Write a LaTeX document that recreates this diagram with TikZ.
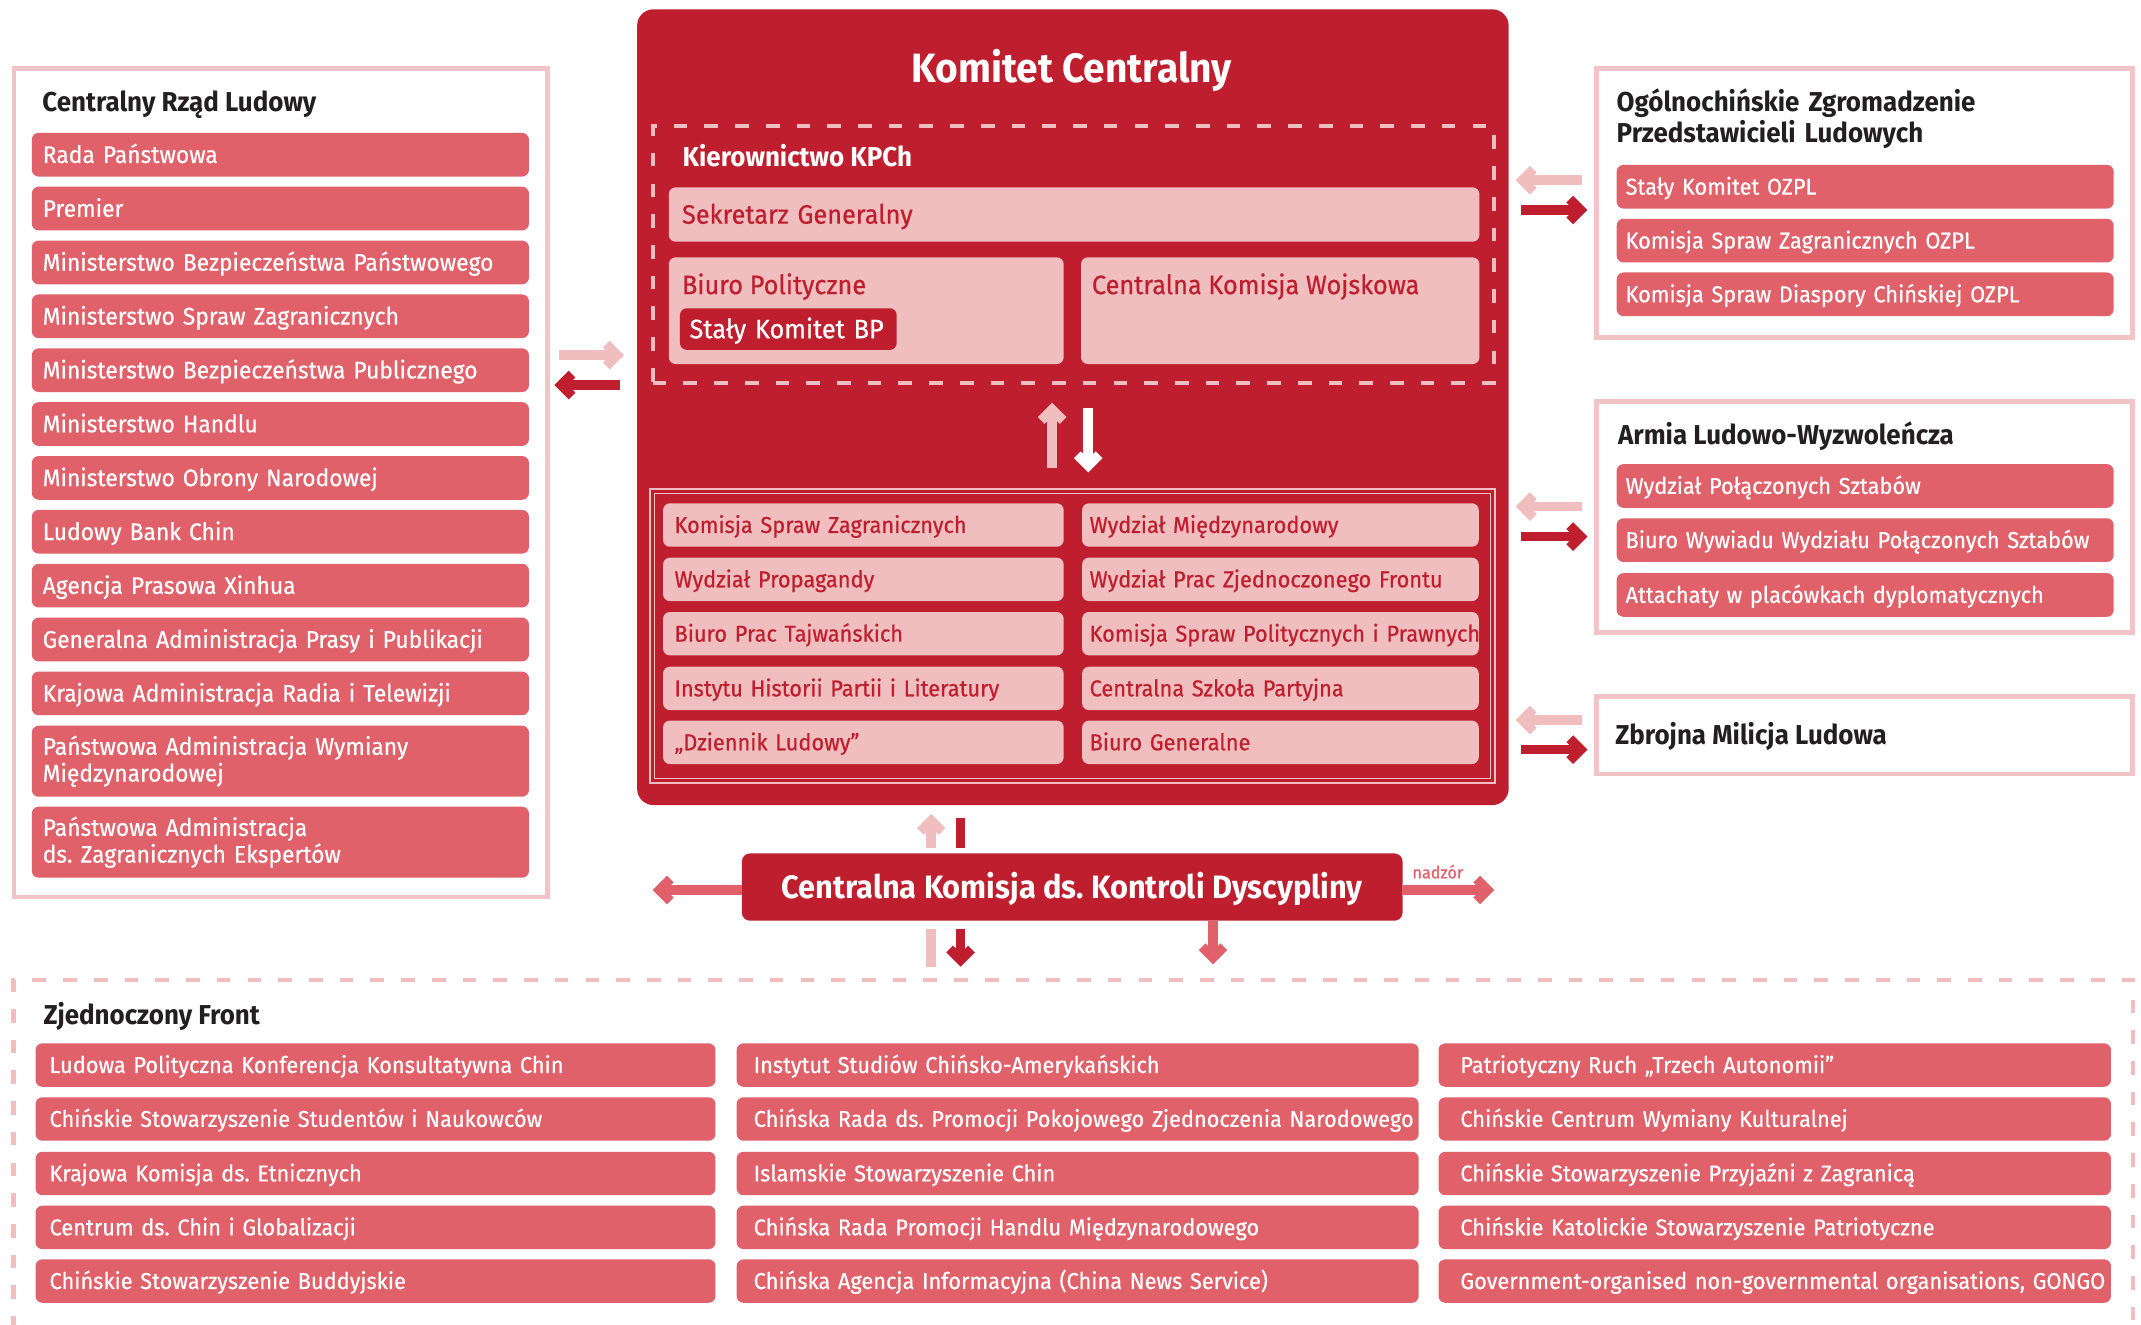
\documentclass[tikz,border=0pt]{standalone}
\usepackage{fontspec}
\setmainfont{Fira Sans}[FakeStretch=0.95]
\newfontfamily\cellface{Fira Sans}[FakeStretch=0.95, FakeBold=0.6]
\usepackage{tikz}
\usetikzlibrary{arrows.meta}
\frenchspacing

\definecolor{kcred}{RGB}{190,30,45}
\definecolor{cellred}{RGB}{224,97,105}
\definecolor{cellpink}{RGB}{240,190,191}
\definecolor{panelpink}{RGB}{242,196,197}
\definecolor{headblack}{RGB}{35,31,32}

\newcommand{\cellfont}{\cellface\fontsize{16.8}{19.6}\selectfont}
\newcommand{\govfont}{\cellface\fontsize{17.6}{19.6}\selectfont}
\newcommand{\topfont}{\cellface\fontsize{19.5}{22}\selectfont}
\newcommand{\headfont}{\bfseries\fontsize{20}{22}\selectfont}

\begin{document}
\begin{tikzpicture}
[every node/.style={inner sep=0pt, outer sep=0pt},
 panel/.style={rectangle, draw=panelpink, line width=3.5pt},
 kcbox/.style={rectangle, rounded corners=12pt, fill=kcred},
 dashframe/.style={rectangle, draw=cellpink, line width=3.2pt, dash pattern=on 10pt off 12.5pt},
 lowframe/.style={rectangle, draw=cellpink, line width=1pt, double=kcred, double distance=2.4pt},
 pinkbox/.style={rectangle, rounded corners=5pt, fill=cellpink},
 nowrap/.style={execute at begin node={\hbox\bgroup}, execute at end node={\egroup}},
 oneline/.style={nowrap, text height=15.6pt, text depth=4pt},
 redcell/.style={rectangle, rounded corners=5pt, fill=cellred, text=white, font=\cellfont, align=left, anchor=west},
 pinkcell/.style={rectangle, rounded corners=5pt, fill=cellpink, text=kcred, font=\cellfont, align=left, anchor=west},
 gov/.style={redcell, oneline, font=\govfont, text height=16.1pt, minimum height=32pt, inner xsep=8pt, text width=348.1pt},
 gov2/.style={redcell, font=\govfont, minimum height=52pt, inner xsep=8pt, text width=348.1pt},
 side/.style={redcell, oneline, minimum height=32pt, inner xsep=6.5pt, text width=351pt},
 lowl/.style={pinkcell, oneline, minimum height=31.8pt, inner xsep=8.4pt, text width=276.6pt},
 lowr/.style={pinkcell, oneline, minimum height=31.8pt, inner xsep=5.5pt, text width=279.5pt},
 fronta/.style={redcell, oneline, minimum height=31.8pt, inner xsep=10.3pt, text width=477.4pt},
 frontb/.style={redcell, oneline, minimum height=31.8pt, inner xsep=12.5pt, text width=474.5pt},
 frontc/.style={redcell, oneline, minimum height=31.8pt, inner xsep=16pt, text width=460.5pt},
 heading/.style={font=\headfont, text=headblack, anchor=west, text height=17.8pt, text depth=4pt},
 toplabel/.style={font=\topfont, text=kcred, anchor=west, text height=17.4pt, text depth=4pt},
 flow/.style={line width=7pt, -{Straight Barb[length=8pt, width=16pt]}},
 paleflow/.style={flow, draw=cellpink},
 darkflow/.style={flow, draw=kcred},
 midflow/.style={flow, draw=cellred},
 whiteflow/.style={flow, draw=white},
 paleline/.style={line width=7pt, draw=cellpink},
 darkline/.style={line width=7pt, draw=kcred}]
\useasboundingbox (0pt,0pt) rectangle (1568pt,-970pt);

% frames
\node (1) [panel, minimum width=390.8pt, minimum height=607pt] at (205.6pt, -353.5pt) {};
\node (2) [kcbox, minimum width=638.3pt, minimum height=582.8pt] at (785.75pt, -298.2pt) {};
\node (3) [dashframe, minimum width=616pt, minimum height=188.4pt] at (786pt, -186.5pt) {};
\node (4) [lowframe, minimum width=615.6pt, minimum height=212.1pt] at (785.5pt, -465.75pt) {};
\node (5) [panel, minimum width=392.7pt, minimum height=197pt] at (1365.35pt, -148.5pt) {};
\node (6) [panel, minimum width=392.7pt, minimum height=169.2pt] at (1365.35pt, -378.6pt) {};
\node (7) [panel, minimum width=392.7pt, minimum height=56.8pt] at (1365.35pt, -538.4pt) {};
\node (8) [kcbox, rounded corners=6pt, minimum width=483.9pt, minimum height=49.3pt, text=white, font=\bfseries\fontsize{23.7}{26}\selectfont, text height=20.3pt, text depth=4pt] at (785.25pt, -649.65pt) {Centralna Komisja ds. Kontroli Dyscypliny};
\node (9) [dashframe, minimum width=1552pt, minimum height=272.3pt] at (786pt, -853.85pt) {};

% headings
\node (10) [heading] at (31pt, -75pt) {Centralny Rząd Ludowy};
\node (11) [text=white, font=\bfseries\fontsize{30}{32}\selectfont, text height=24.7pt, text depth=4pt] at (785pt, -50pt) {Komitet Centralny};
\node (12) [heading, text=white] at (500pt, -114.8pt) {Kierownictwo KPCh};
\node (13) [heading, anchor=base west, text height=, text depth=, text width=360pt, align=left] at (1184pt, -82pt) {Ogólnochińskie Zgromadzenie\\Przedstawicieli Ludowych};
\node (14) [heading] at (1185pt, -318.6pt) {Armia Ludowo-Wyzwoleńcza};
\node (15) [heading] at (1183pt, -538pt) {Zbrojna Milicja Ludowa};
\node (16) [heading] at (32pt, -743.4pt) {Zjednoczony Front};

% kierownictwo
\node (17) [pinkcell, nowrap, font=\topfont, text height=17.4pt, text depth=4pt, minimum height=39.8pt, inner xsep=9.7pt, text width=574.3pt] at (489.8pt, -157.1pt) {Sekretarz Generalny};
\node (18) [pinkbox, minimum width=289.2pt, minimum height=78.1pt] at (634.4pt, -227.55pt) {};
\node (19) [toplabel] at (499.5pt, -208.7pt) {Biuro Polityczne};
\node (20) [pinkcell, nowrap, fill=kcred, text=white, font=\topfont, text height=17.4pt, text depth=4pt, minimum height=30.5pt, inner xsep=7pt, text width=144.7pt] at (498pt, -241pt) {Stały Komitet BP};
\node (21) [pinkbox, minimum width=291.8pt, minimum height=78.1pt] at (937.6pt, -227.55pt) {};
\node (22) [toplabel] at (799.7pt, -208.7pt) {Centralna Komisja Wojskowa};

% wydzialy KC
\node (23) [lowl] at (485.6pt, -384.5pt) {Komisja Spraw Zagranicznych};
\node (24) [lowl] at (485.6pt, -424.3pt) {Wydział Propagandy};
\node (25) [lowl] at (485.6pt, -464.1pt) {Biuro Prac Tajwańskich};
\node (26) [lowl] at (485.6pt, -504.15pt) {Instytu Historii Partii i Literatury};
\node (27) [lowl] at (485.6pt, -543.65pt) {„Dziennik Ludowy”};
\node (28) [lowr] at (792.5pt, -384.5pt) {Wydział Międzynarodowy};
\node (29) [lowr] at (792.5pt, -424.3pt) {Wydział Prac Zjednoczonego Frontu};
\node (30) [lowr] at (792.5pt, -464.1pt) {Komisja Spraw Politycznych i Prawnych};
\node (31) [lowr] at (792.5pt, -504.15pt) {Centralna Szkoła Partyjna};
\node (32) [lowr] at (792.5pt, -543.65pt) {Biuro Generalne};

% rzad
\node (33) [gov] at (23.3pt, -113.3pt) {Rada Państwowa};
\node (34) [gov] at (23.3pt, -152.75pt) {Premier};
\node (35) [gov] at (23.3pt, -192.2pt) {Ministerstwo Bezpieczeństwa Państwowego};
\node (36) [gov] at (23.3pt, -231.65pt) {Ministerstwo Spraw Zagranicznych};
\node (37) [gov] at (23.3pt, -271.1pt) {Ministerstwo Bezpieczeństwa Publicznego};
\node (38) [gov] at (23.3pt, -310.55pt) {Ministerstwo Handlu};
\node (39) [gov] at (23.3pt, -350pt) {Ministerstwo Obrony Narodowej};
\node (40) [gov] at (23.3pt, -389.45pt) {Ludowy Bank Chin};
\node (41) [gov] at (23.3pt, -428.9pt) {Agencja Prasowa Xinhua};
\node (42) [gov] at (23.3pt, -468.35pt) {Generalna Administracja Prasy i Publikacji};
\node (43) [gov] at (23.3pt, -507.8pt) {Krajowa Administracja Radia i Telewizji};
\node (44) [gov2] at (23.3pt, -557.5pt) {Państwowa Administracja Wymiany\\Międzynarodowej};
\node (45) [gov2] at (23.3pt, -616.8pt) {Państwowa Administracja\\ds. Zagranicznych Ekspertów};

% OZPL, ALW
\node (46) [side] at (1184pt, -136.75pt) {Stały Komitet OZPL};
\node (47) [side] at (1184pt, -176.2pt) {Komisja Spraw Zagranicznych OZPL};
\node (48) [side] at (1184pt, -215.55pt) {Komisja Spraw Diaspory Chińskiej OZPL};
\node (49) [side] at (1184pt, -355.9pt) {Wydział Połączonych Sztabów};
\node (50) [side] at (1184pt, -395.55pt) {Biuro Wywiadu Wydziału Połączonych Sztabów};
\node (51) [side] at (1184pt, -435.75pt) {Attachaty w placówkach dyplomatycznych};

% front
\node (52) [fronta] at (26pt, -780pt) {Ludowa Polityczna Konferencja Konsultatywna Chin};
\node (53) [fronta] at (26pt, -819.5pt) {Chińskie Stowarzyszenie Studentów i Naukowców};
\node (54) [fronta] at (26pt, -859.4pt) {Krajowa Komisja ds. Etnicznych};
\node (55) [fronta] at (26pt, -898.9pt) {Centrum ds. Chin i Globalizacji};
\node (56) [fronta] at (26pt, -938.2pt) {Chińskie Stowarzyszenie Buddyjskie};
\node (57) [frontb] at (539.5pt, -780pt) {Instytut Studiów Chińsko-Amerykańskich};
\node (58) [frontb] at (539.5pt, -819.5pt) {Chińska Rada ds. Promocji Pokojowego Zjednoczenia Narodowego};
\node (59) [frontb] at (539.5pt, -859.4pt) {Islamskie Stowarzyszenie Chin};
\node (60) [frontb] at (539.5pt, -898.9pt) {Chińska Rada Promocji Handlu Międzynarodowego};
\node (61) [frontb] at (539.5pt, -938.2pt) {Chińska Agencja Informacyjna (China News Service)};
\node (62) [frontc] at (1053.5pt, -780pt) {Patriotyczny Ruch „Trzech Autonomii”};
\node (63) [frontc] at (1053.5pt, -819.5pt) {Chińskie Centrum Wymiany Kulturalnej};
\node (64) [frontc] at (1053.5pt, -859.4pt) {Chińskie Stowarzyszenie Przyjaźni z Zagranicą};
\node (65) [frontc] at (1053.5pt, -898.9pt) {Chińskie Katolickie Stowarzyszenie Patriotyczne};
\node (66) [frontc] at (1053.5pt, -938.2pt) {Government-organised non-governmental organisations, GONGO};

% arrows
\draw [paleflow, shorten <=8.5pt, shorten >=9.6pt] (1.east |- 0,-260pt) to (2.west |- 0,-260pt);
\draw [darkflow, shorten <=12.6pt, shorten >=5pt] (2.west |- 0,-282pt) to (1.east |- 0,-282pt);
\draw [paleflow, shorten <=10.4pt, shorten >=5.1pt] (5.west |- 0,-132pt) to (2.east |- 0,-132pt);
\draw [darkflow, shorten <=9.1pt, shorten >=6.4pt] (2.east |- 0,-153.8pt) to (5.west |- 0,-153.8pt);
\draw [paleflow, shorten <=10.4pt, shorten >=5.1pt] (6.west |- 0,-371pt) to (2.east |- 0,-371pt);
\draw [darkflow, shorten <=9.1pt, shorten >=6.4pt] (2.east |- 0,-393pt) to (6.west |- 0,-393pt);
\draw [paleflow, shorten <=10.4pt, shorten >=5.1pt] (7.west |- 0,-527.3pt) to (2.east |- 0,-527.3pt);
\draw [darkflow, shorten <=9.1pt, shorten >=6.4pt] (2.east |- 0,-549pt) to (7.west |- 0,-549pt);
\draw [paleflow, shorten <=17.2pt, shorten >=14.3pt] (4.north -| 770.5pt,0) to (3.south -| 770.5pt,0);
\draw [whiteflow, shorten <=18.3pt, shorten >=13.7pt] (3.south -| 797pt,0) to (4.north -| 797pt,0);
\draw [paleflow, shorten <=4.2pt, shorten >=6.4pt] (8.north -| 682pt,0) to (2.south -| 682pt,0);
\draw [darkline, shorten <=9.4pt, shorten >=4.2pt] (2.south -| 703.5pt,0) to (8.north -| 703.5pt,0);
\draw [paleline, shorten <=5.7pt, shorten >=9.7pt] (8.south -| 682pt,0) to (9.north -| 682pt,0);
\draw [darkflow, shorten <=5.7pt, shorten >=9.7pt] (8.south -| 703.5pt,0) to (9.north -| 703.5pt,0);
\draw [midflow, shorten >=11.4pt] (8.south -| 888.4pt,0) to (9.north -| 888.4pt,0);
\coordinate (67) at (478pt, -651.8pt);
\coordinate (68) at (1094.5pt, -651.8pt);
\draw [midflow] (8.west |- 67) to (67);
\draw [midflow] (8.east |- 68) to (68);
\node (69) [text=cellred, font=\cellface\fontsize{12.5}{14}\selectfont] at (1053pt, -638.4pt) {nadzór};
\end{tikzpicture}
\end{document}
